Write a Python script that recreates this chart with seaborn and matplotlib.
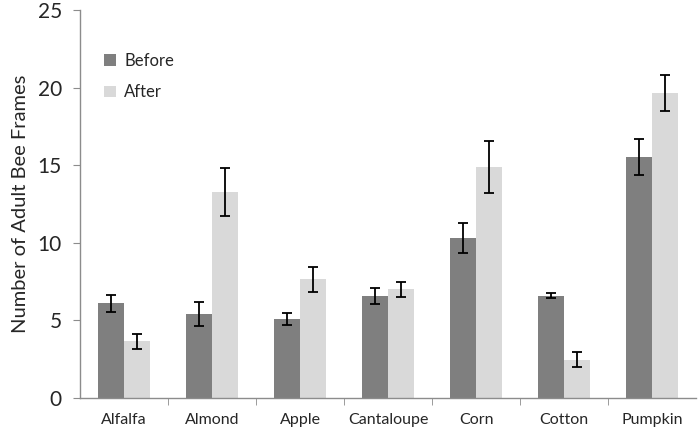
import matplotlib
matplotlib.use('Agg')
import matplotlib.pyplot as plt
import seaborn as sns
import pandas as pd
import numpy as np

crops = ['Alfalfa', 'Almond', 'Apple', 'Cantaloupe', 'Corn', 'Cotton', 'Pumpkin']
before = [6.1, 5.4, 5.08, 6.56, 10.3, 6.6, 15.57]
after = [3.66, 13.29, 7.66, 7.01, 14.88, 2.47, 19.68]
before_err = [0.57, 0.78, 0.37, 0.53, 0.98, 0.16, 1.16]
after_err = [0.47, 1.55, 0.8, 0.5, 1.68, 0.47, 1.18]

df = pd.DataFrame({
    'crop': crops * 2,
    'period': ['Before'] * len(crops) + ['After'] * len(crops),
    'frames': before + after,
    'err': before_err + after_err,
})

sns.set_style('white')
plt.rcParams['font.family'] = ['Lato', 'DejaVu Sans']

fig = plt.figure(figsize=(7, 4.34), dpi=100)
ax = fig.add_axes([0.1143, 0.083, 0.88, 0.893])

sns.barplot(data=df, x='crop', y='frames', hue='period', order=crops,
            hue_order=['Before', 'After'], palette=['#7f7f7f', '#d9d9d9'],
            width=0.6, errorbar=None, saturation=1, linewidth=0, ax=ax)

# error bars at bar centres
for container, errs in zip(ax.containers, [before_err, after_err]):
    xs = [p.get_x() + p.get_width() / 2 for p in container.patches]
    ys = [p.get_height() for p in container.patches]
    ax.errorbar(xs, ys, yerr=errs, fmt='none', ecolor='black',
                elinewidth=1.3, capsize=3.5, capthick=1.3)

ax.set_ylim(0, 25)
ax.set_xlim(-0.5, len(crops) - 0.5)
ax.set_yticks([0, 5, 10, 15, 20, 25])
ax.set_xlabel('')
ax.set_ylabel('Number of Adult Bee Frames', fontsize=14.5, labelpad=6)

sns.despine(ax=ax)
for s in ['left', 'bottom']:
    ax.spines[s].set_color('#8c8c8c')
    ax.spines[s].set_linewidth(1.0)

ax.tick_params(axis='y', labelsize=15, length=5, color='#8c8c8c', left=True, pad=8)
ax.tick_params(axis='x', labelsize=11.5, length=0, pad=11)
# excel-style tick marks between categories
ax.set_xticks(np.arange(0.5, len(crops) - 0.5), minor=True)
ax.tick_params(axis='x', which='minor', length=5, color='#8c8c8c', bottom=True)

ax.legend(loc='upper left', bbox_to_anchor=(0.015, 0.93), frameon=False,
          fontsize=12, handlelength=0.7, handleheight=0.7, handletextpad=0.5,
          labelspacing=0.95)

fig.savefig('out.png', dpi=100)
